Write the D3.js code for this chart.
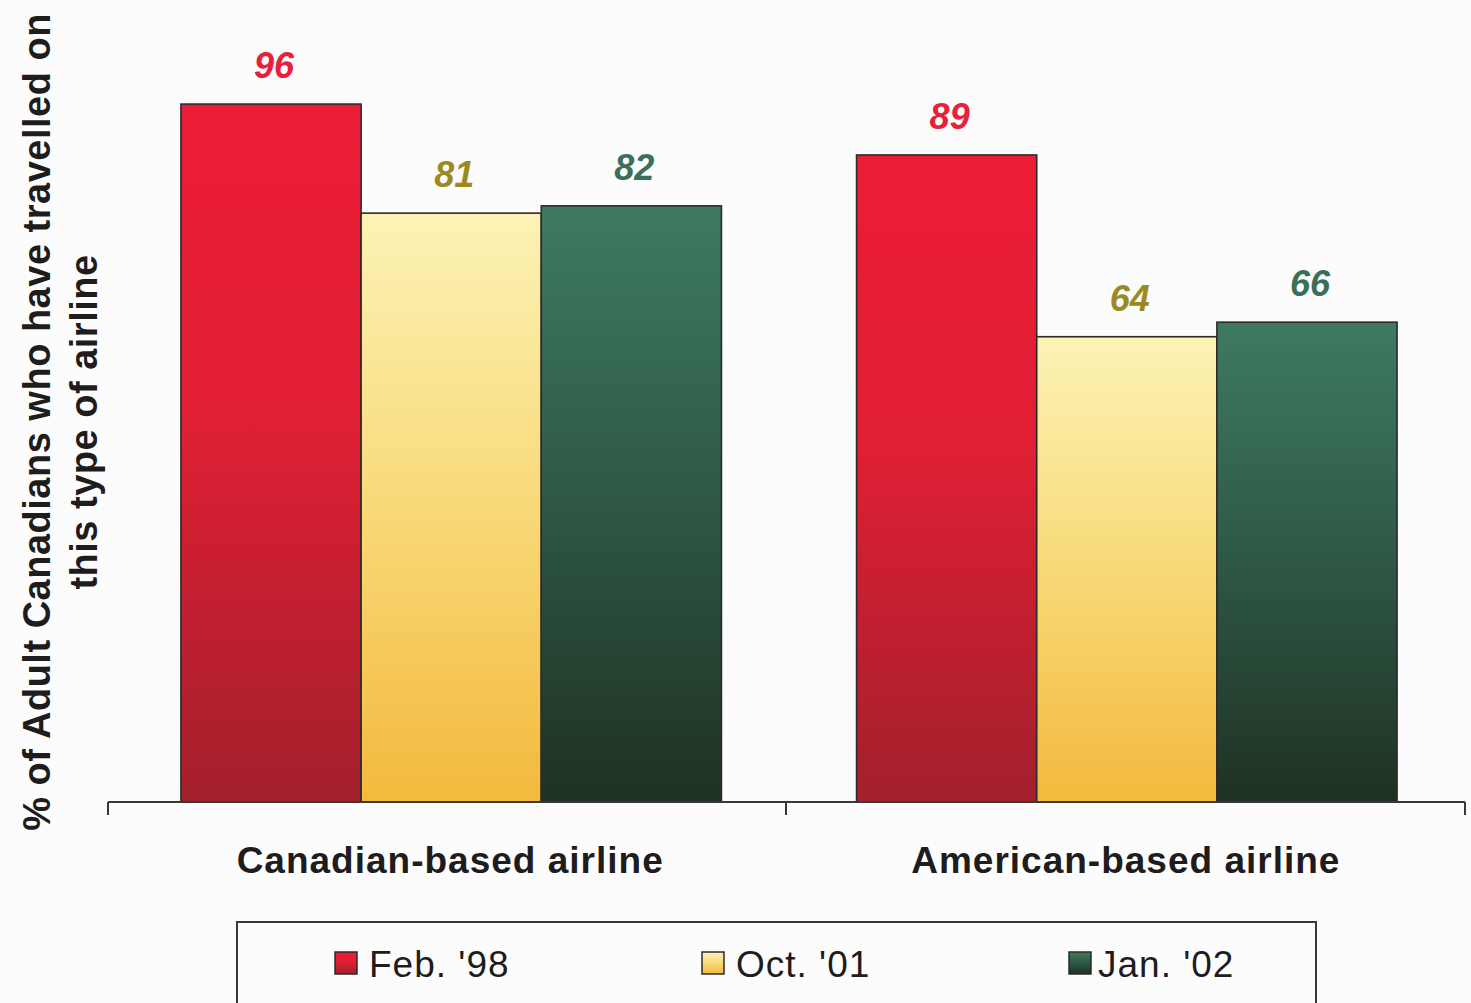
<!DOCTYPE html>
<html>
<head>
<meta charset="utf-8">
<script src="https://cdn.jsdelivr.net/npm/d3@7"></script>
<style>
  html, body { margin: 0; padding: 0; background: #fdfcfc; }
  svg { display: block; font-family: "Liberation Sans", Arial, sans-serif; }
</style>
</head>
<body>
<svg id="chart" width="1471" height="1003"></svg>
<script>
// Airline categories and survey waves
const categories = ["Canadian-based airline", "American-based airline"];
const seriesNames = ["Feb. '98", "Oct. '01", "Jan. '02"];
const feb98 = [96, 89];
const oct01 = [81, 64];
const jan02 = [82, 66];
const yTitleLines = ["% of Adult Canadians who have travelled on", "this type of airline"];

const seriesValues = [feb98, oct01, jan02];
const gradients = [
  [["0%", "#ec1d36"], ["45%", "#e01f34"], ["100%", "#a2202c"]],
  [["0%", "#fcf3b6"], ["50%", "#f8d978"], ["100%", "#f3b93d"]],
  [["0%", "#3e7a61"], ["50%", "#2e5844"], ["100%", "#1f3123"]]
];
const labelColors = ["#e8203a", "#9b8a22", "#3b6f58"];

const svg = d3.select("#chart");
const defs = svg.append("defs");
gradients.forEach((stops, i) => {
  const g = defs.append("linearGradient")
    .attr("id", "grad" + i)
    .attr("x1", 0).attr("y1", 0).attr("x2", 0).attr("y2", 1);
  stops.forEach(([o, c]) => g.append("stop").attr("offset", o).attr("stop-color", c));
});

const axisLeft = 108, axisMid = 786, axisRight = 1465, baseY = 802;

const x0 = d3.scaleBand().domain(categories)
  .range([110, 1468]).paddingInner(0.2).paddingOuter(0.105);
const x1 = d3.scaleBand().domain(d3.range(seriesNames.length))
  .range([0, x0.bandwidth()]).padding(0);
const y = d3.scaleLinear().domain([0, 100]).range([baseY, 75]);

// Bars with value labels
const groups = svg.append("g").selectAll("g")
  .data(categories).join("g")
  .attr("transform", d => `translate(${x0(d)},0)`);

groups.each(function(cat, ci) {
  const g = d3.select(this);
  seriesValues.forEach((vals, si) => {
    const v = vals[ci];
    g.append("rect")
      .attr("x", x1(si))
      .attr("y", y(v))
      .attr("width", x1.bandwidth())
      .attr("height", y(0) - y(v))
      .attr("fill", `url(#grad${si})`)
      .attr("stroke", "#2e2a2a")
      .attr("stroke-width", 1.6);
    g.append("text")
      .attr("x", x1(si) + x1.bandwidth() / 2 + 3)
      .attr("y", y(v) - 26)
      .attr("text-anchor", "middle")
      .attr("font-size", 36)
      .attr("font-weight", "bold")
      .attr("font-style", "italic")
      .attr("fill", labelColors[si])
      .text(v);
  });
});

// Category axis with outer and divider ticks
const axis = d3.axisBottom(x0).tickSize(0).tickFormat("");
const axisG = svg.append("g").attr("transform", `translate(0,${baseY})`).call(axis);
axisG.select(".domain").remove();
axisG.append("line")
  .attr("x1", axisLeft).attr("x2", axisRight)
  .attr("stroke", "#3a3838").attr("stroke-width", 2);
axisG.selectAll("line.div").data([axisLeft, axisMid, axisRight]).join("line")
  .attr("class", "div")
  .attr("x1", d => d).attr("x2", d => d)
  .attr("y1", 0).attr("y2", 13)
  .attr("stroke", "#3a3838").attr("stroke-width", 2);

svg.append("g").selectAll("text")
  .data(categories).join("text")
  .attr("x", d => x0(d) + x0.bandwidth() / 2 - 1)
  .attr("y", 873)
  .attr("text-anchor", "middle")
  .attr("font-size", 37)
  .attr("letter-spacing", 1)
  .attr("font-weight", "bold")
  .attr("fill", "#1e1c1c")
  .text(d => d);

// Y-axis title
const yTitle = svg.append("text")
  .attr("transform", "translate(0,422) rotate(-90)")
  .attr("text-anchor", "middle")
  .attr("font-size", 38)
  .attr("letter-spacing", 0.5)
  .attr("font-weight", "bold")
  .attr("fill", "#1e1c1c");
yTitleLines.forEach((t, i) => {
  yTitle.append("tspan").attr("x", 0).attr("y", 50 + i * 47).text(t);
});

// Legend
svg.append("rect")
  .attr("x", 237).attr("y", 922)
  .attr("width", 1079).attr("height", 100)
  .attr("fill", "#fdfcfc")
  .attr("stroke", "#3a3838").attr("stroke-width", 2);

const legendX = d3.scalePoint().domain(seriesNames).range([335, 1069]);
const legendItems = svg.append("g").selectAll("g")
  .data(seriesNames).join("g")
  .attr("transform", d => `translate(${legendX(d)},952)`);
legendItems.append("rect")
  .attr("width", 22).attr("height", 22)
  .attr("fill", (d, i) => `url(#grad${i})`)
  .attr("stroke", "#2e2a2a").attr("stroke-width", 1.5);
legendItems.append("text")
  .attr("x", (d, i) => i === 2 ? 29 : 34).attr("y", 25)
  .attr("font-size", 37)
  .attr("letter-spacing", 1)
  .attr("fill", "#1e1c1c")
  .text(d => d);
</script>
</body>
</html>
